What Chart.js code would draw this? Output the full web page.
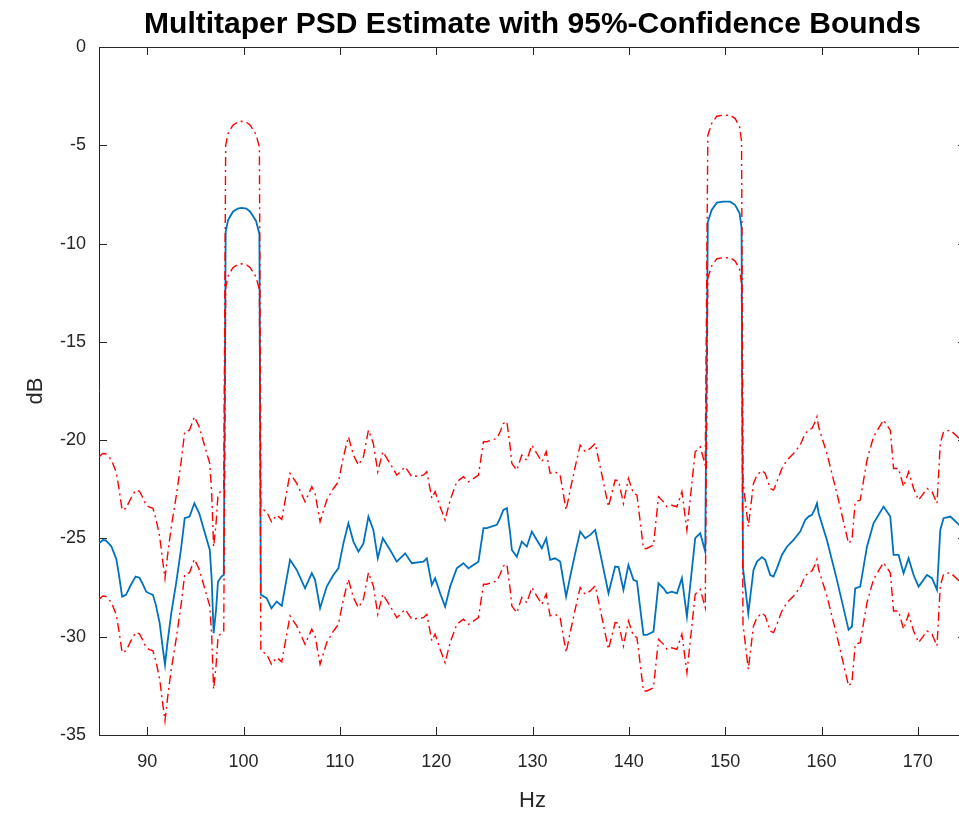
<!DOCTYPE html>
<html>
<head>
<meta charset="utf-8">
<script src="https://cdn.jsdelivr.net/npm/chart.js@4/dist/chart.umd.min.js"></script>
<style>
  html, body { margin: 0; padding: 0; background: #fff; overflow: hidden; }
  #wrap { position: absolute; left: 0; top: 0; width: 968px; height: 817px; }
</style>
</head>
<body>
<div id="wrap"><canvas id="psd" width="968" height="817"></canvas></div>
<script>
// frequency (Hz) of each sample
const freqs = [
  85.0, 85.4, 85.7, 86.1, 86.3, 86.8, 87.1, 87.4, 87.8, 88.3,
  88.8, 89.2, 89.5, 89.9, 90.2, 90.6, 90.9, 91.3, 91.6, 91.85,
  92.1, 92.5, 93.0, 93.5, 93.9, 94.4, 94.9, 95.4, 95.9, 96.5,
  96.7, 96.9, 97.15, 97.35, 97.7, 97.95, 98.15, 98.4, 98.9, 99.4,
  99.8, 100.3, 100.7, 101.3, 101.65, 101.8, 102.4, 102.9, 103.45, 103.97,
  104.83, 105.53, 106.39, 107.09, 107.43, 107.95, 108.64, 109.33, 109.85, 110.37,
  110.89, 111.41, 111.93, 112.45, 112.97, 113.48, 113.94, 114.46, 115.22, 115.91,
  116.78, 117.47, 118.68, 119.03, 119.55, 119.89, 120.41, 120.93, 121.45, 122.14,
  122.83, 123.35, 124.39, 124.91, 125.26, 126.3, 126.64, 126.98, 127.34, 127.68,
  127.86, 128.37, 128.89, 129.41, 129.93, 130.45, 130.97, 131.42, 131.83, 132.35,
  132.87, 133.49, 133.91, 134.43, 134.95, 135.47, 135.99, 136.51, 137.03, 137.89,
  138.58, 138.93, 139.44, 139.96, 140.48, 140.84, 141.52, 141.87, 142.56, 143.08,
  143.6, 143.95, 144.47, 144.99, 145.51, 146.03, 146.89, 147.41, 147.93, 148.2,
  148.6, 149.14, 149.8, 150.52, 151.04, 151.5, 151.7, 151.85, 152.4, 152.94,
  153.3, 153.81, 154.16, 154.68, 155.02, 155.37, 155.89, 156.41, 157.1, 157.79,
  158.31, 158.66, 159.01, 159.35, 159.53, 159.7, 160.56, 161.6, 162.81, 163.16,
  163.5, 164.02, 164.72, 165.4, 166.44, 167.14, 167.48, 168.0, 168.52, 169.04,
  169.56, 170.08, 170.95, 171.47, 171.99, 172.33, 172.67, 173.37, 174.3, 175.0
];

// PSD estimate (dB)
const psd = [
  -25.25, -25.08, -25.10, -25.30, -25.42, -26.05, -26.94, -27.96, -27.87, -27.37,
  -26.94, -27.00, -27.28, -27.71, -27.79, -27.87, -28.38, -29.31, -30.50, -31.43,
  -30.33, -28.81, -27.30, -25.60, -23.97, -23.89, -23.21, -23.72, -24.57, -25.59,
  -27.11, -29.82, -28.64, -27.20, -26.94, -26.86, -9.40, -8.80, -8.38, -8.22,
  -8.18, -8.22, -8.38, -8.85, -9.50, -27.87, -28.04, -28.55, -28.21, -28.43,
  -26.09, -26.60, -27.54, -26.77, -27.11, -28.55, -27.45, -26.86, -26.52, -25.25,
  -24.23, -25.16, -25.67, -25.25, -23.89, -24.57, -26.01, -24.99, -25.59, -26.18,
  -25.76, -26.26, -26.18, -26.01, -27.36, -27.02, -27.79, -28.47, -27.45, -26.52,
  -26.26, -26.52, -26.18, -24.48, -24.48, -24.31, -23.97, -23.55, -23.46, -24.74,
  -25.59, -25.93, -25.16, -25.42, -24.65, -25.08, -25.50, -24.99, -26.09, -26.01,
  -26.18, -27.96, -26.94, -25.76, -24.65, -24.99, -24.82, -24.57, -25.76, -27.79,
  -26.43, -26.46, -27.62, -26.35, -27.11, -27.19, -29.91, -29.91, -29.74, -27.28,
  -27.54, -27.79, -27.71, -27.79, -27.02, -28.98, -24.99, -24.74, -25.67, -8.90,
  -8.29, -7.92, -7.87, -7.87, -8.04, -8.46, -9.20, -26.50, -28.81, -26.60,
  -26.18, -25.95, -26.09, -26.86, -26.94, -26.52, -25.84, -25.42, -25.08, -24.65,
  -24.06, -23.89, -23.80, -23.46, -23.21, -23.72, -25.08, -27.11, -29.65, -29.48,
  -27.54, -27.45, -25.42, -24.23, -23.38, -23.89, -25.84, -25.84, -26.77, -26.01,
  -26.86, -27.45, -26.86, -27.02, -27.62, -24.57, -23.97, -23.89, -24.31, -24.70
];

// upper 95% bound (dB)
const upper = [
  -20.85, -20.68, -20.70, -20.90, -21.02, -21.65, -22.54, -23.56, -23.47, -22.97,
  -22.54, -22.60, -22.88, -23.31, -23.39, -23.47, -23.98, -24.91, -26.10, -27.03,
  -25.93, -24.41, -22.90, -21.20, -19.57, -19.49, -18.81, -19.32, -20.17, -21.19,
  -22.71, -25.42, -24.24, -22.80, -22.54, -22.46, -5.00, -4.40, -3.98, -3.82,
  -3.78, -3.82, -3.98, -4.45, -5.10, -23.47, -23.64, -24.15, -23.81, -24.03,
  -21.69, -22.20, -23.14, -22.37, -22.71, -24.15, -23.05, -22.46, -22.12, -20.85,
  -19.83, -20.76, -21.27, -20.85, -19.49, -20.17, -21.61, -20.59, -21.19, -21.78,
  -21.36, -21.86, -21.78, -21.61, -22.96, -22.62, -23.39, -24.07, -23.05, -22.12,
  -21.86, -22.12, -21.78, -20.08, -20.08, -19.91, -19.57, -19.15, -19.06, -20.34,
  -21.19, -21.53, -20.76, -21.02, -20.25, -20.68, -21.10, -20.59, -21.69, -21.61,
  -21.78, -23.56, -22.54, -21.36, -20.25, -20.59, -20.42, -20.17, -21.36, -23.39,
  -22.03, -22.06, -23.22, -21.95, -22.71, -22.79, -25.51, -25.51, -25.34, -22.88,
  -23.14, -23.39, -23.31, -23.39, -22.62, -24.58, -20.59, -20.34, -21.27, -4.50,
  -3.89, -3.52, -3.47, -3.47, -3.64, -4.06, -4.80, -22.10, -24.41, -22.20,
  -21.78, -21.55, -21.69, -22.46, -22.54, -22.12, -21.44, -21.02, -20.68, -20.25,
  -19.66, -19.49, -19.40, -19.06, -18.81, -19.32, -20.68, -22.71, -25.25, -25.08,
  -23.14, -23.05, -21.02, -19.83, -18.98, -19.49, -21.44, -21.44, -22.37, -21.61,
  -22.46, -23.05, -22.46, -22.62, -23.22, -20.17, -19.57, -19.49, -19.91, -20.30
];

// lower 95% bound (dB)
const lower = [
  -28.10, -27.93, -27.95, -28.15, -28.27, -28.90, -29.79, -30.81, -30.72, -30.22,
  -29.79, -29.85, -30.13, -30.56, -30.64, -30.72, -31.23, -32.16, -33.35, -34.28,
  -33.18, -31.66, -30.15, -28.45, -26.82, -26.74, -26.06, -26.57, -27.42, -28.44,
  -29.96, -32.67, -31.49, -30.05, -29.79, -29.71, -12.25, -11.65, -11.23, -11.07,
  -11.03, -11.07, -11.23, -11.70, -12.35, -30.72, -30.89, -31.40, -31.06, -31.28,
  -28.94, -29.45, -30.39, -29.62, -29.96, -31.40, -30.30, -29.71, -29.37, -28.10,
  -27.08, -28.01, -28.52, -28.10, -26.74, -27.42, -28.86, -27.84, -28.44, -29.03,
  -28.61, -29.11, -29.03, -28.86, -30.21, -29.87, -30.64, -31.32, -30.30, -29.37,
  -29.11, -29.37, -29.03, -27.33, -27.33, -27.16, -26.82, -26.40, -26.31, -27.59,
  -28.44, -28.78, -28.01, -28.27, -27.50, -27.93, -28.35, -27.84, -28.94, -28.86,
  -29.03, -30.81, -29.79, -28.61, -27.50, -27.84, -27.67, -27.42, -28.61, -30.64,
  -29.28, -29.31, -30.47, -29.20, -29.96, -30.04, -32.76, -32.76, -32.59, -30.13,
  -30.39, -30.64, -30.56, -30.64, -29.87, -31.83, -27.84, -27.59, -28.52, -11.75,
  -11.14, -10.77, -10.72, -10.72, -10.89, -11.31, -12.05, -29.35, -31.66, -29.45,
  -29.03, -28.80, -28.94, -29.71, -29.79, -29.37, -28.69, -28.27, -27.93, -27.50,
  -26.91, -26.74, -26.65, -26.31, -26.06, -26.57, -27.93, -29.96, -32.50, -32.33,
  -30.39, -30.30, -28.27, -27.08, -26.23, -26.74, -28.69, -28.69, -29.62, -28.86,
  -29.71, -30.30, -29.71, -29.87, -30.47, -27.42, -26.82, -26.74, -27.16, -27.55
];

const xTicks = [90, 100, 110, 120, 130, 140, 150, 160, 170];
const yTicks = [-35, -30, -25, -20, -15, -10, -5, 0];

const axisColor = '#262626';
const fontFamily = '"Liberation Sans", Arial, Helvetica, sans-serif';

function pts(vals) {
  return freqs.map((f, i) => ({ x: f, y: vals[i] }));
}

// MATLAB style: box on top, ticks pointing into the axes
const innerTicks = {
  id: 'innerTicks',
  afterDraw(chart) {
    const { ctx, chartArea: a, scales: { x, y } } = chart;
    const len = 8;
    ctx.save();
    ctx.strokeStyle = axisColor;
    ctx.lineWidth = 1;
    ctx.beginPath();
    ctx.moveTo(a.left, a.top + 0.5);
    ctx.lineTo(a.right, a.top + 0.5);
    xTicks.forEach(v => {
      const px = Math.round(x.getPixelForValue(v)) + 0.5;
      ctx.moveTo(px, a.bottom);
      ctx.lineTo(px, a.bottom - len);
      ctx.moveTo(px, a.top);
      ctx.lineTo(px, a.top + len);
    });
    yTicks.forEach(v => {
      const py = Math.round(y.getPixelForValue(v)) + 0.5;
      ctx.moveTo(a.left, py);
      ctx.lineTo(a.left + len, py);
      ctx.moveTo(a.right, py);
      ctx.lineTo(a.right - len, py);
    });
    ctx.stroke();
    ctx.restore();
  }
};

const ctx = document.getElementById('psd').getContext('2d');
new Chart(ctx, {
  type: 'line',
  data: {
    datasets: [
      {
        label: 'Upper bound',
        data: pts(upper),
        borderColor: 'rgb(255, 0, 0)',
        borderWidth: 1.4,
        borderDash: [9, 4, 2, 4],
        pointRadius: 0,
        fill: false,
        tension: 0,
        order: 0
      },
      {
        label: 'Lower bound',
        data: pts(lower),
        borderColor: 'rgb(255, 0, 0)',
        borderWidth: 1.4,
        borderDash: [9, 4, 2, 4],
        pointRadius: 0,
        fill: false,
        tension: 0,
        order: 0
      },
      {
        label: 'PSD',
        data: pts(psd),
        borderColor: '#0072BD',
        borderWidth: 1.8,
        pointRadius: 0,
        fill: false,
        tension: 0,
        order: 1
      }
    ]
  },
  options: {
    responsive: false,
    animation: false,
    devicePixelRatio: 1,
    layout: { padding: { left: 0, right: 2, top: 0, bottom: 0 } },
    plugins: {
      legend: { display: false },
      tooltip: { enabled: false },
      title: {
        display: true,
        fullSize: false,
        text: 'Multitaper PSD Estimate with 95%-Confidence Bounds',
        color: '#000',
        font: { family: fontFamily, size: 30, weight: 'bold' },
        padding: { top: 7, bottom: 4 }
      }
    },
    scales: {
      x: {
        type: 'linear',
        min: 85,
        max: 175,
        afterBuildTicks: s => { s.ticks = xTicks.map(v => ({ value: v })); },
        afterFit: s => { s.height = 82; },
        grid: { display: false, drawTicks: false },
        border: { display: true, color: axisColor, width: 1 },
        ticks: {
          color: axisColor,
          padding: 16,
          maxRotation: 0,
          font: { family: fontFamily, size: 18 }
        },
        title: {
          display: true,
          text: 'Hz',
          color: axisColor,
          font: { family: fontFamily, size: 22 },
          padding: { top: 0, bottom: 3 }
        }
      },
      y: {
        min: -35,
        max: 0,
        afterBuildTicks: s => { s.ticks = yTicks.map(v => ({ value: v })); },
        afterFit: s => { s.width = 99; },
        grid: { display: false, drawTicks: false },
        border: { display: true, color: axisColor, width: 1 },
        ticks: {
          color: axisColor,
          padding: 13,
          font: { family: fontFamily, size: 18 }
        },
        title: {
          display: true,
          text: 'dB',
          color: axisColor,
          font: { family: fontFamily, size: 22 },
          padding: { top: 23, bottom: 0 }
        }
      }
    }
  },
  plugins: [innerTicks]
});
</script>
</body>
</html>
